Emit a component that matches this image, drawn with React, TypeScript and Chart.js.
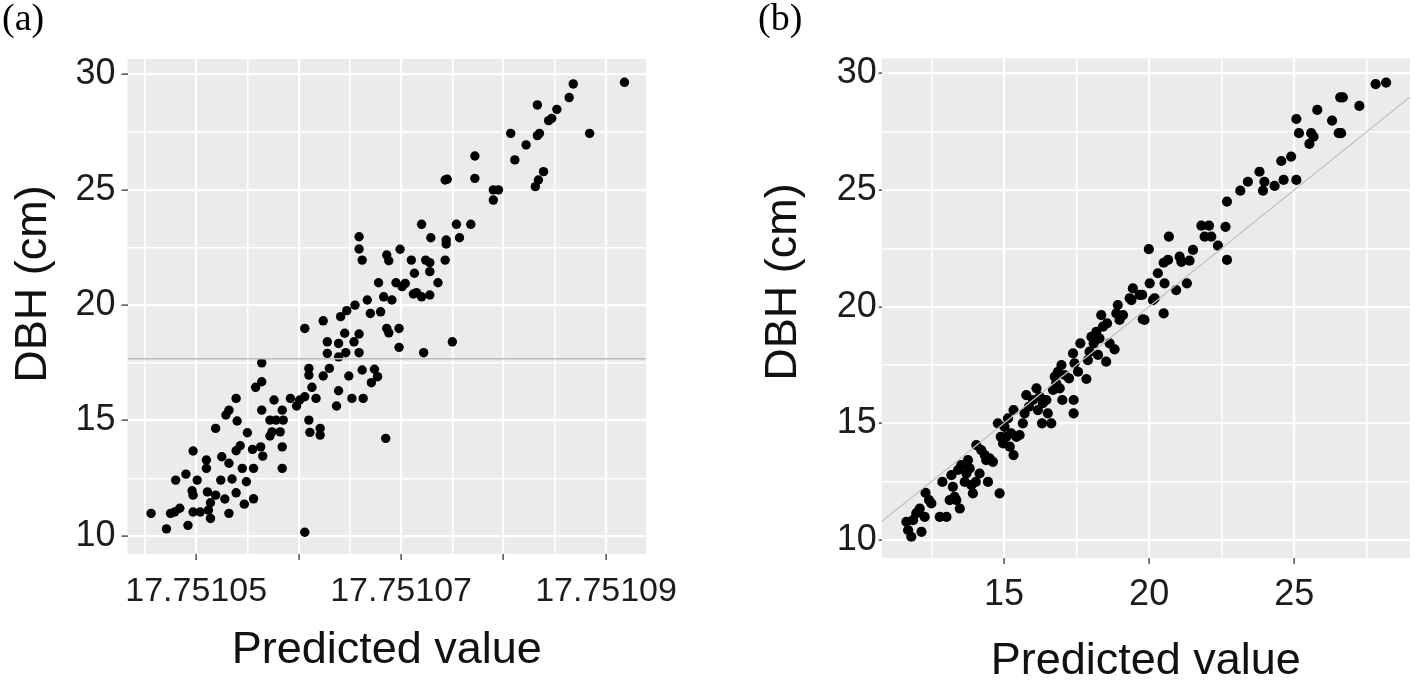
import React, { useEffect, useRef } from 'react';
import { Chart, registerables } from 'chart.js';

Chart.register(...registerables);

// ---------- Panel (a) data ----------
const predA: number[] = [
  17.7510456, 17.7510471, 17.7510475, 17.7510479, 17.7510484, 17.7510480, 17.7510490, 17.7510492, 17.7510496, 17.7510497,
  17.7510497, 17.7510501, 17.7510497, 17.7510504, 17.7510510, 17.7510510, 17.7510511, 17.7510514, 17.7510512, 17.7510514,
  17.7510519, 17.7510519, 17.7510525, 17.7510524, 17.7510528, 17.7510532, 17.7510532, 17.7510535, 17.7510539, 17.7510539,
  17.7510540, 17.7510539, 17.7510529, 17.7510532, 17.7510545, 17.7510547, 17.7510549, 17.7510550, 17.7510543, 17.7510555,
  17.7510556, 17.7510556, 17.7510558, 17.7510564, 17.7510564, 17.7510564, 17.7510563, 17.7510565, 17.7510572, 17.7510574,
  17.7510572, 17.7510576, 17.7510578, 17.7510582, 17.7510584, 17.7510584, 17.7510584, 17.7510585, 17.7510592, 17.7510598,
  17.7510601, 17.7510606, 17.7510606, 17.7510606, 17.7510610, 17.7510610, 17.7510610, 17.7510611, 17.7510613, 17.7510617,
  17.7510621, 17.7510621, 17.7510624, 17.7510624, 17.7510628, 17.7510628, 17.7510630, 17.7510637, 17.7510639, 17.7510639,
  17.7510639, 17.7510641, 17.7510645, 17.7510646, 17.7510649, 17.7510652, 17.7510654, 17.7510655, 17.7510659, 17.7510659,
  17.7510662, 17.7510663, 17.7510667, 17.7510670, 17.7510671, 17.7510674, 17.7510677, 17.7510680, 17.7510685, 17.7510686,
  17.7510688, 17.7510698, 17.7510698, 17.7510659, 17.7510659, 17.7510662, 17.7510686, 17.7510688, 17.7510699, 17.7510678,
  17.7510695, 17.7510683, 17.7510691, 17.7510647, 17.7510710, 17.7510720, 17.7510729, 17.7510744, 17.7510744, 17.7510743,
  17.7510754, 17.7510757, 17.7510768, 17.7510724, 17.7510728, 17.7510728, 17.7510713, 17.7510736, 17.7510701, 17.7510704,
  17.7510712, 17.7510715, 17.7510720, 17.7510728, 17.7510743, 17.7510745, 17.7510772, 17.7510772, 17.7510790, 17.7510795,
  17.7510790, 17.7510807, 17.7510811, 17.7510822, 17.7510833, 17.7510833, 17.7510835, 17.7510839, 17.7510834, 17.7510831,
  17.7510844, 17.7510847, 17.7510852, 17.7510864, 17.7510868, 17.7510884, 17.7510918, 17.7510722, 17.7510750,
];
const dbhA: number[] = [
  10.98, 10.31, 10.98, 11.04, 11.20, 12.42, 12.68, 10.46, 11.96, 11.77,
  13.68, 12.42, 11.04, 11.04, 13.29, 12.93, 11.91, 11.44, 11.12, 10.76,
  11.77, 14.66, 13.43, 12.42, 11.60, 13.15, 10.98, 12.47, 11.87, 13.69,
  14.98, 15.96, 15.24, 15.45, 12.93, 11.38, 12.35, 14.47, 13.91, 13.75,
  12.93, 11.61, 16.44, 16.68, 17.50, 15.45, 13.86, 13.46, 14.33, 14.51,
  15.02, 15.89, 15.02, 14.51, 15.45, 13.86, 12.93, 15.02, 15.96, 15.63,
  15.89, 16.03, 18.99, 10.16, 17.26, 16.97, 15.02, 14.49, 16.44, 15.96,
  14.66, 14.37, 16.93, 19.32, 18.41, 17.91, 17.26, 15.63, 16.29, 18.34,
  17.76, 19.50, 18.78, 17.94, 16.93, 15.96, 18.41, 20.00, 18.75, 17.94,
  17.19, 15.96, 20.22, 19.64, 16.64, 17.22, 16.90, 19.71, 14.23, 18.99,
  18.80, 18.17, 18.99, 22.96, 22.43, 21.95, 22.17, 21.92, 22.42, 20.97,
  20.97, 20.36, 20.22, 19.76, 21.95, 23.50, 22.92, 22.82, 22.65, 21.95,
  23.50, 22.92, 23.50, 21.95, 21.84, 21.45, 21.38, 20.97, 20.80, 20.94,
  20.48, 20.54, 20.36, 20.44, 25.42, 25.45, 26.46, 25.49, 24.99, 24.99,
  24.55, 27.44, 26.29, 26.94, 28.67, 27.34, 27.44, 25.78, 25.42, 25.13,
  27.99, 28.09, 28.48, 28.99, 29.58, 27.44, 29.65, 17.94, 18.41,
];
const meanDbhA = 17.68;
const xRangeA = [17.7510433, 17.7510939];
const yRangeA = [9.22, 30.66];
const xTicksA = [17.751045, 17.75105, 17.751055, 17.75106, 17.751065, 17.75107, 17.751075, 17.75108, 17.751085, 17.75109];
const xTickLabelsA = ['', '17.75105', '', '', '', '17.75107', '', '', '', '17.75109'];
const xTickMajorA = [false, true, false, true, false, true, false, true, false, true];

// ---------- Panel (b) data ----------
const predB: number[] = [
  11.64, 11.70, 11.81, 11.87, 11.98, 12.10, 12.16, 12.27, 12.30, 12.42,
  12.50, 12.04, 12.79, 12.88, 13.02, 13.13, 13.19, 13.24, 13.30, 13.36,
  13.42, 13.48, 13.53, 13.65, 13.71, 13.76, 13.82, 13.88, 13.93, 14.03,
  14.05, 14.16, 14.22, 14.34, 14.39, 14.45, 14.51, 14.62, 14.85, 14.79,
  14.89, 14.97, 15.02, 15.08, 15.14, 15.20, 15.25, 15.33, 15.33, 15.43,
  15.54, 15.65, 15.71, 15.77, 15.86, 16.00, 16.12, 16.17, 16.23, 16.31,
  16.34, 16.46, 16.51, 16.63, 16.69, 16.75, 16.80, 16.86, 16.92, 16.98,
  17.01, 17.09, 17.24, 17.38, 17.40, 17.40, 17.43, 17.55, 17.63, 17.84,
  17.89, 17.95, 18.01, 18.09, 18.18, 18.24, 18.29, 18.35, 18.41, 18.52,
  18.55, 18.64, 18.81, 18.87, 18.92, 18.98, 19.10, 19.39, 19.78, 19.44,
  19.67, 19.33, 19.76, 20.02, 19.99, 20.19, 20.30, 20.50, 20.53, 20.50,
  20.65, 20.68, 20.93, 21.05, 21.11, 21.30, 21.39, 21.51, 21.80, 21.91,
  22.06, 22.14, 22.37, 22.63, 22.68, 22.68, 23.14, 23.40, 23.80, 23.92,
  23.97, 24.32, 24.55, 24.63, 24.89, 25.07, 25.07, 25.16, 25.52, 25.58,
  25.66, 25.79, 26.30, 26.53, 26.61, 26.67, 27.24, 27.80, 28.16, 19.84,
  20.13, 26.58,
];
const dbhB: number[] = [
  10.78, 10.42, 10.14, 10.85, 11.14, 11.35, 10.35, 10.99, 12.02, 11.71,
  11.57, 11.21, 10.99, 12.49, 10.99, 11.71, 12.78, 12.28, 11.85, 11.71,
  13.00, 11.35, 13.21, 12.49, 12.85, 13.42, 13.07, 12.35, 12.00, 12.49,
  14.07, 12.85, 13.85, 13.64, 13.42, 12.49, 13.50, 13.35, 12.00, 15.00,
  14.42, 14.14, 14.85, 14.42, 15.21, 14.00, 14.57, 13.64, 15.57, 14.42,
  14.50, 15.00, 15.43, 16.21, 15.71, 16.00, 16.50, 15.57, 16.14, 15.00,
  15.86, 16.00, 15.43, 15.00, 16.43, 17.00, 16.71, 17.21, 16.50, 17.50,
  16.00, 17.07, 16.93, 18.00, 16.00, 15.43, 17.57, 17.21, 18.43, 16.90,
  17.71, 18.07, 18.71, 18.43, 18.92, 17.93, 18.64, 19.64, 19.14, 17.64,
  19.28, 18.43, 18.17, 19.71, 20.07, 19.43, 19.64, 20.28, 19.46, 20.78,
  20.50, 20.36, 20.50, 21.00, 22.46, 20.36, 21.43, 19.71, 21.00, 21.88,
  22.00, 23.00, 20.71, 22.14, 21.92, 21.00, 21.97, 22.43, 23.47, 23.00,
  23.47, 23.00, 22.61, 23.42, 22.00, 24.50, 24.97, 25.35, 25.78, 24.97,
  25.35, 25.17, 26.24, 25.43, 26.43, 25.43, 28.04, 27.43, 26.97, 27.43,
  27.28, 28.43, 27.97, 27.43, 27.43, 28.97, 28.60, 29.53, 29.60, 19.43,
  20.28, 28.97,
];
const xRangeB = [10.79, 28.98];
const yRangeB = [9.23, 30.64];
const refLineX = [10.79, 28.98]; // 1:1 line
const refLineY = [10.79, 28.98];
const xTicksB = [12.5, 15, 17.5, 20, 22.5, 25, 27.5];
const xTickLabelsB = ['', '15', '', '20', '', '25', ''];
const xTickMajorB = [false, true, false, true, false, true, false];

// ---------- shared y axis ticks ----------
const yTicks = [10, 12.5, 15, 17.5, 20, 22.5, 25, 27.5, 30];
const yTickLabels = ['10', '', '15', '', '20', '', '25', '', '30'];
const yTickMajor = [true, false, true, false, true, false, true, false, true];

const SANS = '"Liberation Sans", Arial, Helvetica, sans-serif';
const SERIF = '"Liberation Serif", "Times New Roman", serif';

type PanelSpec = {
  width: number;
  panelLabel: string;
  labelX: number;
  yTitleX: number;
  yTitleY: number;
  padding: { left: number; right: number; top: number; bottom: number };
  yAxisWidth: number;
  xAxisHeight: number;
  xRange: number[];
  yRange: number[];
  xTicks: number[];
  xTickLabels: string[];
  xTickMajor: boolean[];
  yTickLen: number;
  yTickPad: number;
  xTickLen: number;
  xTickPad: number;
  xTickFont: number;
  xTitlePad: number;
  datasets: any[];
};

function buildConfig(s: PanelSpec): any {
  const decor = {
    id: 'panelDecor',
    beforeDraw(chart: any) {
      const { ctx, chartArea } = chart;
      ctx.save();
      ctx.fillStyle = '#EBEBEB';
      ctx.fillRect(chartArea.left, chartArea.top, chartArea.right - chartArea.left, chartArea.bottom - chartArea.top);
      ctx.restore();
    },
    afterDraw(chart: any) {
      const { ctx } = chart;
      ctx.save();
      ctx.fillStyle = '#000';
      ctx.font = `38px ${SERIF}`;
      ctx.textAlign = 'left';
      ctx.textBaseline = 'alphabetic';
      ctx.fillText(s.panelLabel, s.labelX, 30);
      ctx.translate(s.yTitleX, s.yTitleY);
      ctx.rotate(-Math.PI / 2);
      ctx.font = `45px ${SANS}`;
      ctx.fillStyle = '#111';
      ctx.textAlign = 'center';
      ctx.textBaseline = 'middle';
      ctx.fillText('DBH (cm)', 0, 0);
      ctx.restore();
    },
  };

  return {
    type: 'scatter',
    data: { datasets: s.datasets },
    options: {
      responsive: false,
      animation: false,
      devicePixelRatio: 1,
      events: [],
      layout: { padding: s.padding },
      plugins: { legend: { display: false }, tooltip: { enabled: false } },
      scales: {
        x: {
          type: 'linear',
          min: s.xRange[0],
          max: s.xRange[1],
          border: { display: false },
          afterBuildTicks: (scale: any) => {
            scale.ticks = s.xTicks.map((v) => ({ value: v }));
          },
          afterFit: (scale: any) => {
            scale.height = s.xAxisHeight;
          },
          grid: {
            color: '#FFFFFF',
            lineWidth: (c: any) => (s.xTickMajor[c.index] ? 2.2 : 1.5),
            drawTicks: true,
            tickLength: s.xTickLen,
            tickWidth: 1.3,
            tickColor: (c: any) => (s.xTickMajor[c.index] ? '#333333' : 'rgba(0,0,0,0)'),
          },
          ticks: {
            autoSkip: false,
            maxRotation: 0,
            minRotation: 0,
            padding: s.xTickPad,
            color: '#1c1c1c',
            font: { family: SANS, size: s.xTickFont },
            callback: (_v: any, i: number) => s.xTickLabels[i] ?? '',
          },
          title: {
            display: true,
            text: 'Predicted value',
            color: '#111',
            font: { family: SANS, size: 45, lineHeight: 0.8 },
            padding: { top: 0, bottom: s.xTitlePad },
          },
        },
        y: {
          type: 'linear',
          min: s.yRange[0],
          max: s.yRange[1],
          border: { display: false },
          afterBuildTicks: (scale: any) => {
            scale.ticks = yTicks.map((v) => ({ value: v }));
          },
          afterFit: (scale: any) => {
            scale.width = s.yAxisWidth;
          },
          grid: {
            color: '#FFFFFF',
            lineWidth: (c: any) => (yTickMajor[c.index] ? 2.2 : 1.5),
            drawTicks: true,
            tickLength: s.yTickLen,
            tickWidth: 1.3,
            tickColor: (c: any) => (yTickMajor[c.index] ? '#333333' : 'rgba(0,0,0,0)'),
          },
          ticks: {
            autoSkip: false,
            padding: s.yTickPad,
            color: '#1c1c1c',
            font: { family: SANS, size: 36 },
            callback: (_v: any, i: number) => yTickLabels[i] ?? '',
          },
        },
      },
    },
    plugins: [decor],
  };
}

function Panel({ spec, left }: { spec: PanelSpec; left: number }) {
  const ref = useRef<HTMLCanvasElement>(null);
  useEffect(() => {
    const chart = new Chart(ref.current as HTMLCanvasElement, buildConfig(spec));
    return () => chart.destroy();
  }, []);
  return (
    <canvas
      ref={ref}
      width={spec.width}
      height={682}
      style={{ position: 'absolute', left, top: 0, width: spec.width, height: 682 }}
    />
  );
}

const specA: PanelSpec = {
  width: 700,
  panelLabel: '(a)',
  labelX: 2,
  yTitleX: 34,
  yTitleY: 284,
  padding: { left: 0, right: 54, top: 59, bottom: 0 },
  yAxisWidth: 127.5,
  xAxisHeight: 128,
  xRange: xRangeA,
  yRange: yRangeA,
  xTicks: xTicksA,
  xTickLabels: xTickLabelsA,
  xTickMajor: xTickMajorA,
  yTickLen: 6,
  yTickPad: 6,
  xTickLen: 6,
  xTickPad: 11,
  xTickFont: 34,
  xTitlePad: 13,
  datasets: [
    {
      label: 'mean',
      data: [
        { x: xRangeA[0], y: meanDbhA },
        { x: xRangeA[1], y: meanDbhA },
      ],
      showLine: true,
      borderColor: '#BBBBBB',
      borderWidth: 1.6,
      pointRadius: 0,
      order: 0,
    },
    {
      label: 'DBH',
      data: predA.map((x, i) => ({ x, y: dbhA[i] })),
      pointRadius: 4.7,
      pointBackgroundColor: '#000',
      pointBorderWidth: 0,
      order: 1,
    },
  ],
};

const specB: PanelSpec = {
  width: 715,
  panelLabel: '(b)',
  labelX: 58,
  yTitleX: 83.6,
  yTitleY: 282,
  padding: { left: 0, right: 4.3, top: 58.3, bottom: 0 },
  yAxisWidth: 181.7,
  xAxisHeight: 124,
  xRange: xRangeB,
  yRange: yRangeB,
  xTicks: xTicksB,
  xTickLabels: xTickLabelsB,
  xTickMajor: xTickMajorB,
  yTickLen: 3,
  yTickPad: 2,
  xTickLen: 6,
  xTickPad: 9,
  xTickFont: 36,
  xTitlePad: 2,
  datasets: [
    {
      label: '1:1',
      data: refLineX.map((x, i) => ({ x, y: refLineY[i] })),
      showLine: true,
      borderColor: '#C2C2C2',
      borderWidth: 1.2,
      pointRadius: 0,
      order: 0,
    },
    {
      label: 'DBH',
      data: predB.map((x, i) => ({ x, y: dbhB[i] })),
      pointRadius: 5.1,
      pointBackgroundColor: '#000',
      pointBorderWidth: 0,
      order: 1,
    },
  ],
};

export default function App() {
  return (
    <div style={{ position: 'fixed', left: 0, top: 0, width: 1415, height: 682, background: '#FFFFFF' }}>
      <Panel spec={specA} left={0} />
      <Panel spec={specB} left={700} />
    </div>
  );
}
